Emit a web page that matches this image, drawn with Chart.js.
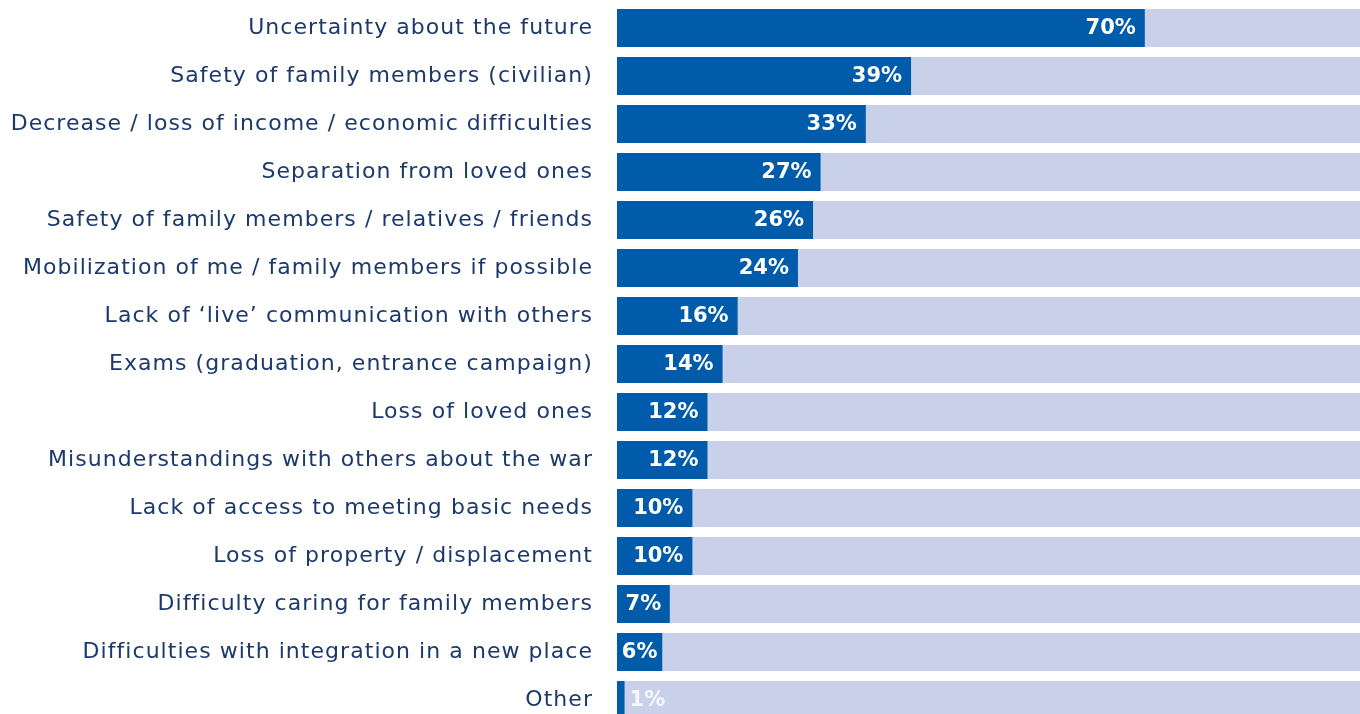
<!DOCTYPE html>
<html>
<head>
<meta charset="utf-8">
<script src="https://cdn.jsdelivr.net/npm/chart.js@4/dist/chart.umd.min.js"></script>
<style>
html,body{margin:0;padding:0;background:#fff;overflow:hidden;width:1360px;height:714px;}
#wrap{position:absolute;left:0;top:0;width:1371px;height:724px;}
</style>
</head>
<body>
<div id="wrap"><canvas id="c" width="1371" height="724"></canvas></div>
<script>
const categories = [
  "Uncertainty about the future",
  "Safety of family members (civilian)",
  "Decrease / loss of income / economic difficulties",
  "Separation from loved ones",
  "Safety of family members / relatives / friends",
  "Mobilization of me / family members if possible",
  "Lack of \u2018live\u2019 communication with others",
  "Exams (graduation, entrance campaign)",
  "Loss of loved ones",
  "Misunderstandings with others about the war",
  "Lack of access to meeting basic needs",
  "Loss of property / displacement",
  "Difficulty caring for family members",
  "Difficulties with integration in a new place",
  "Other"
];
const values = [70, 39, 33, 27, 26, 24, 16, 14, 12, 12, 10, 10, 7, 6, 1];
const totals = [100, 100, 100, 100, 100, 100, 100, 100, 100, 100, 100, 100, 100, 100, 100];

const VALUE_FONT = "bold 21px 'DejaVu Sans'";

const tracking = {
  id: 'tracking',
  beforeDraw(chart) { chart.ctx.letterSpacing = '1.05px'; }
};

const valueLabels = {
  id: 'valueLabels',
  afterDatasetsDraw(chart) {
    const ctx = chart.ctx;
    const meta = chart.getDatasetMeta(0);
    ctx.save();
    ctx.letterSpacing = '0px';
    ctx.font = VALUE_FONT;
    ctx.textBaseline = 'middle';
    meta.data.forEach((bar, i) => {
      const txt = values[i] + '%';
      const tw = ctx.measureText(txt).width;
      const bw = bar.x - bar.base;
      ctx.fillStyle = '#ffffff';
      if (bw >= tw + 4) {
        const pad = Math.min(9, (bw - tw) / 2);
        ctx.textAlign = 'right';
        ctx.fillText(txt, bar.x - pad, bar.y + 1);
      } else {
        ctx.globalAlpha = 0.85;
        ctx.textAlign = 'left';
        ctx.fillText(txt, bar.x + 5, bar.y + 1);
        ctx.globalAlpha = 1;
      }
    });
    ctx.restore();
  }
};

new Chart(document.getElementById('c'), {
  type: 'bar',
  data: {
    labels: categories,
    datasets: [
      { data: values, backgroundColor: '#005BAA', grouped: false, order: 0,
        barPercentage: 0.79, categoryPercentage: 1 },
      { data: totals, backgroundColor: '#C8D0EA', grouped: false, order: 1,
        barPercentage: 0.79, categoryPercentage: 1 }
    ]
  },
  options: {
    indexAxis: 'y',
    responsive: false,
    animation: false,
    events: [],
    layout: { autoPadding: false, padding: { top: 4, right: 0, bottom: 0, left: 0 } },
    plugins: { legend: { display: false }, tooltip: { enabled: false } },
    scales: {
      x: { display: false, min: 0, max: 100 },
      y: {
        grid: { display: false, drawTicks: false },
        border: { display: false },
        ticks: { padding: 24, autoSkip: false, color: '#1B3A6B', font: { family: 'DejaVu Sans', size: 22 } },
        afterFit(scale) { scale.width = 617; scale.paddingTop = 0; scale.paddingBottom = 0; }
      }
    }
  },
  plugins: [tracking, valueLabels]
});
</script>
</body>
</html>
